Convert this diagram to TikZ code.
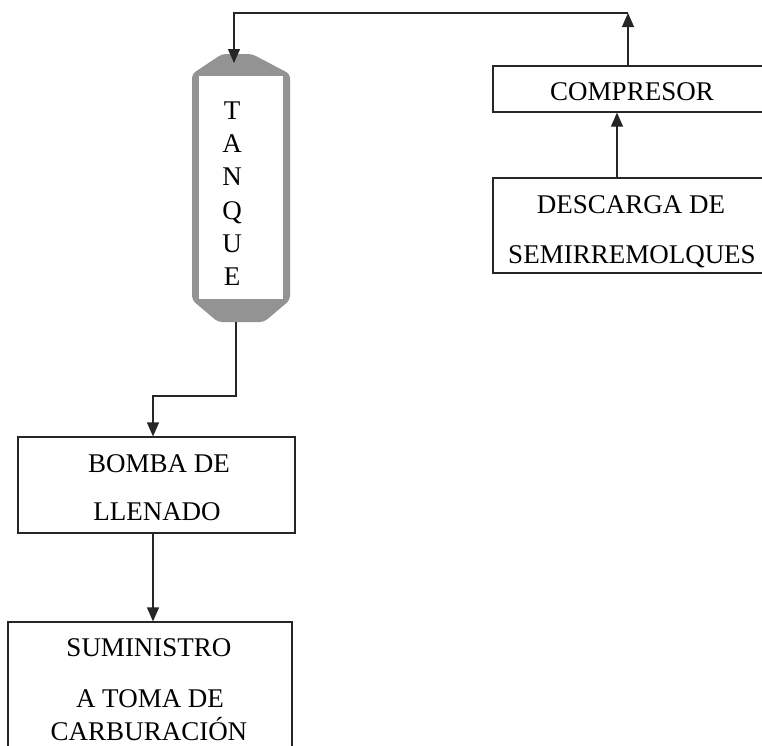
\documentclass[tikz,border=0pt]{standalone}
\usepackage{fontspec}
\setmainfont{Liberation Serif}
\usetikzlibrary{arrows.meta}
\begin{document}
\begin{tikzpicture}[x=1pt,y=-1pt,
  conn/.style={line width=1.2pt,draw=black!85},
  arr/.style={conn,-{Triangle[length=14pt,width=12pt]}},
  blk/.style={draw=black!85,line width=1.2pt,rectangle,inner sep=0pt},
  txt/.style={anchor=base,inner sep=0pt,font=\fontsize{27}{30}\selectfont}]
\useasboundingbox (0,0) rectangle (762,745);
\clip (0,0) rectangle (762,745);
% boxes
\node[blk,minimum width=282pt,minimum height=46pt] (comp) at (634,89) {};
\node[blk,minimum width=282pt,minimum height=95pt] (desc) at (634,225.5) {};
\node[blk,minimum width=277pt,minimum height=96pt] (bomba) at (156.5,485) {};
\node[blk,minimum width=284pt,minimum height=148pt] (sum) at (150,696) {};
% tank
\fill[gray!85,rounded corners=4pt] (192,74) -- (222,54) -- (252,54) -- (290,74) -- (290,300) -- (264,322) -- (218,322) -- (192,300) -- cycle;
\fill[white] (199,76) rectangle (283,299);
\node[inner sep=0pt,minimum width=98pt,minimum height=271pt] (tank) at (241,188.5) {};
% texts
\node[txt] (t1) at (632,100) {COMPRESOR};
\node[txt] (t2) at (631,213) {DESCARGA DE};
\node[txt] (t3) at (632,263) {SEMIRREMOLQUES};
\node[txt] (t4) at (159,472) {BOMBA DE};
\node[txt] (t5) at (157,520) {LLENADO};
\node[txt] (t6) at (149,656) {SUMINISTRO};
\node[txt] (t7) at (150,707) {A TOMA DE};
\node[txt] (t8) at (149,740) {CARBURACIÓN};
\node[txt] (k1) at (232,119) {T};
\node[txt] (k2) at (232,152) {A};
\node[txt] (k3) at (232,185) {N};
\node[txt] (k4) at (232,219) {Q};
\node[txt] (k5) at (232,252) {U};
\node[txt] (k6) at (232,285) {E};
% connectors
\coordinate (xa) at (617,0);
\coordinate (xb) at (628,0);
\coordinate (xc) at (153,0);
\coordinate (corner) at (628,13);
\coordinate (ttop) at (234,63);
\coordinate (tbot) at (236,322);
\coordinate (bend) at (236,396);
\draw[arr] (desc.north -| xa) -- (comp.south -| xa);
\draw[arr] (comp.north -| xb) -- (corner);
\draw[arr] (corner) -| (ttop);
\draw[arr] (tbot) -- (bend) -| (bomba.north -| xc);
\draw[arr] (bomba.south -| xc) -- (sum.north -| xc);
\end{tikzpicture}
\end{document}
